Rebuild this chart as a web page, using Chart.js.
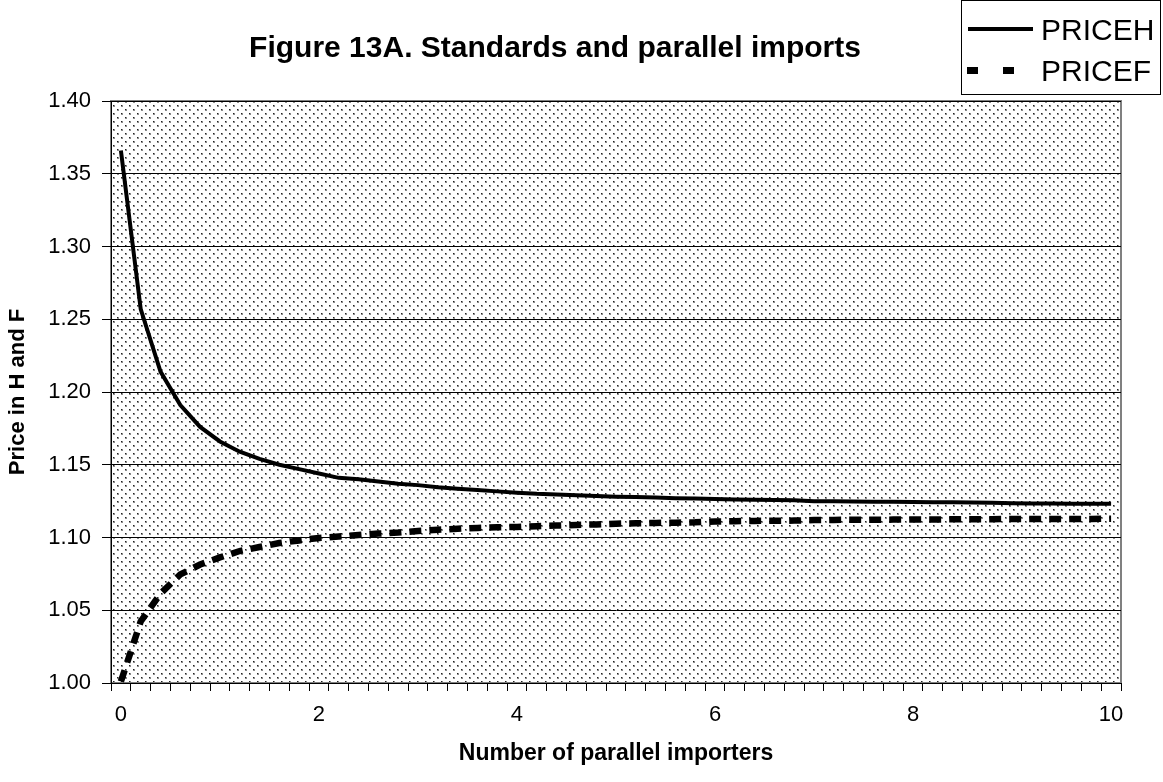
<!DOCTYPE html>
<html>
<head>
<meta charset="utf-8">
<script src="https://cdn.jsdelivr.net/npm/chart.js@4/dist/chart.umd.min.js"></script>
<style>
  body { margin: 0; background: #fff; }
  #wrap { width: 1163px; height: 782px; }
</style>
</head>
<body>
<div id="wrap"><canvas id="myChart" width="1163" height="782"></canvas></div>
<script>
// number of parallel importers (category labels)
var importers = ['0', '0.2', '0.4', '0.6', '0.8', '1', '1.2', '1.4', '1.6', '1.8',
    '2', '2.2', '2.4', '2.6', '2.8', '3', '3.2', '3.4', '3.6', '3.8',
    '4', '4.2', '4.4', '4.6', '4.8', '5', '5.2', '5.4', '5.6', '5.8',
    '6', '6.2', '6.4', '6.6', '6.8', '7', '7.2', '7.4', '7.6', '7.8',
    '8', '8.2', '8.4', '8.6', '8.8', '9', '9.2', '9.4', '9.6', '9.8', '10'];

var priceH = [1.366, 1.257, 1.214, 1.191, 1.176, 1.166, 1.159, 1.154, 1.150, 1.147,
    1.144, 1.141, 1.140, 1.1385, 1.137, 1.136, 1.1345, 1.1335, 1.1327, 1.1317,
    1.1308, 1.130, 1.1296, 1.129, 1.1285, 1.128, 1.1278, 1.1275, 1.127, 1.1268,
    1.1265, 1.1262, 1.126, 1.1258, 1.1256, 1.125, 1.125, 1.1248, 1.1246, 1.1245,
    1.1244, 1.1243, 1.1242, 1.124, 1.1238, 1.1236, 1.1234, 1.1233, 1.1232, 1.1232, 1.1232];

var priceF = [1.001, 1.0423, 1.0615, 1.0746, 1.0814, 1.0863, 1.0907, 1.0935, 1.0962, 1.098,
    1.0997, 1.1007, 1.1017, 1.1027, 1.1034, 1.1045, 1.1053, 1.106, 1.1066, 1.107,
    1.1073, 1.1078, 1.1082, 1.1086, 1.109, 1.1095, 1.1098, 1.110, 1.1102, 1.1104,
    1.111, 1.1112, 1.1114, 1.1115, 1.1116, 1.112, 1.1121, 1.1122, 1.1122, 1.1123,
    1.1124, 1.1124, 1.1125, 1.1126, 1.1126, 1.1127, 1.1127, 1.1128, 1.1128, 1.1128, 1.1129];

var yMin = 1.00;
var yMax = 1.40;
var yStep = 0.05;

var FONT = '"Liberation Sans", Arial, sans-serif';

// motif pointillé du fond (style Excel)
function makeDots() {
    var c = document.createElement('canvas');
    c.width = 8;
    c.height = 8;
    var g = c.getContext('2d');
    g.fillStyle = '#fff';
    g.fillRect(0, 0, 8, 8);
    [[1, 1], [5, 5]].forEach(function(p) {
        g.fillStyle = '#8c8c8c';
        g.fillRect(p[0], p[1], 2, 2);
        g.fillStyle = '#222';
        g.fillRect(p[0], p[1], 1, 1);
    });
    return c;
}

var plotDecor = {
    id: 'plotDecor',
    beforeDraw: function(chart) {
        var ctx = chart.ctx, a = chart.chartArea;
        ctx.save();
        ctx.fillStyle = ctx.createPattern(makeDots(), 'repeat');
        ctx.fillRect(a.left, a.top, a.right - a.left, a.bottom - a.top);
        ctx.strokeStyle = '#808080';
        ctx.lineWidth = 2;
        ctx.strokeRect(a.left, a.top, a.right - a.left, a.bottom - a.top);
        ctx.restore();
    },
    afterDraw: function(chart) {
        var ctx = chart.ctx;
        ctx.save();
        // titre
        ctx.fillStyle = '#000';
        ctx.font = 'bold 30px ' + FONT;
        ctx.textAlign = 'center';
        ctx.textBaseline = 'alphabetic';
        ctx.fillText('Figure 13A. Standards and parallel imports', 555, 57);

        // légende
        ctx.strokeStyle = '#000';
        ctx.lineWidth = 1;
        ctx.strokeRect(961.5, 0.5, 199, 94);
        ctx.lineWidth = 4;
        ctx.beginPath();
        ctx.moveTo(968, 29);
        ctx.lineTo(1033, 29);
        ctx.stroke();
        ctx.lineWidth = 7;
        ctx.setLineDash([11, 25]);
        ctx.beginPath();
        ctx.moveTo(967, 70.5);
        ctx.lineTo(1033, 70.5);
        ctx.stroke();
        ctx.setLineDash([]);
        ctx.font = '30px ' + FONT;
        ctx.textAlign = 'left';
        ctx.fillText('PRICEH', 1041, 40);
        ctx.fillText('PRICEF', 1041, 81);
        ctx.restore();
    }
};

var ctx = document.getElementById('myChart').getContext('2d');
var myChart = new Chart(ctx, {
    type: 'line',
    data: {
        labels: importers,
        datasets: [
            {
                label: 'PRICEH',
                data: priceH,
                borderColor: '#000',
                borderWidth: 4,
                pointRadius: 0,
                tension: 0,
                fill: false
            },
            {
                label: 'PRICEF',
                data: priceF,
                borderColor: '#000',
                borderWidth: 6.5,
                borderDash: [12, 8],
                borderCapStyle: 'butt',
                pointRadius: 0,
                tension: 0,
                fill: false
            }
        ]
    },
    options: {
        responsive: false,
        animation: false,
        layout: { padding: { top: 101, right: 42, bottom: 0, left: 0 } },
        plugins: {
            legend: { display: false },
            title: { display: false },
            tooltip: { enabled: false }
        },
        scales: {
            x: {
                type: 'category',
                offset: true,
                afterFit: function(scale) { scale.height = 99; },
                grid: {
                    offset: true,
                    drawOnChartArea: false,
                    drawTicks: true,
                    tickLength: 8,
                    color: '#000'
                },
                border: { color: '#000', width: 1 },
                ticks: {
                    autoSkip: false,
                    maxRotation: 0,
                    padding: 11,
                    color: '#000',
                    font: { family: FONT, size: 22 },
                    callback: function(val, index) {
                        return index % 10 === 0 ? importers[index] : '';
                    }
                },
                title: {
                    display: true,
                    text: 'Number of parallel importers',
                    color: '#000',
                    font: { family: FONT, size: 23, weight: 'bold' },
                    padding: { top: 0, bottom: 15 }
                }
            },
            y: {
                min: yMin,
                max: yMax,
                afterFit: function(scale) { scale.width = 111; },
                grid: {
                    color: '#000',
                    lineWidth: 1,
                    tickLength: 9
                },
                border: { color: '#000', width: 1 },
                ticks: {
                    stepSize: yStep,
                    padding: 11,
                    color: '#000',
                    font: { family: FONT, size: 22 },
                    callback: function(v) { return v.toFixed(2); }
                },
                title: {
                    display: true,
                    text: 'Price in H and F',
                    color: '#000',
                    font: { family: FONT, size: 22, weight: 'bold' },
                    padding: { top: 5, bottom: 0 }
                }
            }
        }
    },
    plugins: [plotDecor]
});
</script>
</body>
</html>
